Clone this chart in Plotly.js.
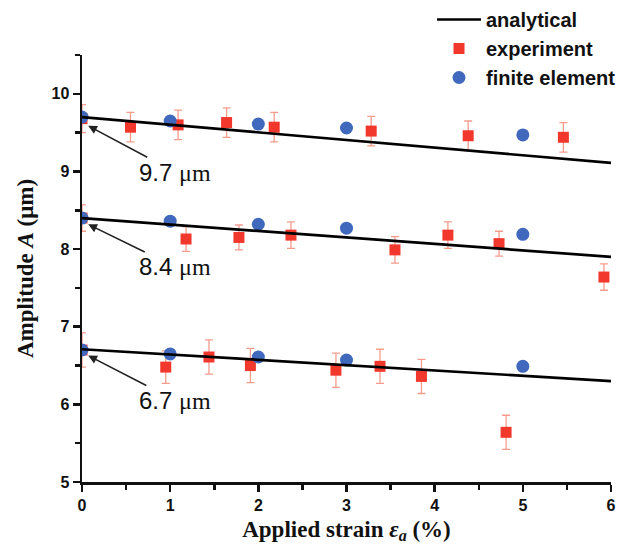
<!DOCTYPE html>
<html><head><meta charset="utf-8">
<script src="https://cdn.plot.ly/plotly-3.0.1.min.js"></script>
<style>html,body{margin:0;padding:0;background:#fff}#chart{width:621px;height:550px}</style>
</head><body><div id="chart"></div>
<script>
// analytical lines (start, end)
const anaX = [0, 6];
const ana97 = [9.70, 9.11];
const ana84 = [8.40, 7.90];
const ana67 = [6.71, 6.30];

// finite element
const feX = [0, 1, 2, 3, 5];
const fe97 = [9.70, 9.65, 9.61, 9.56, 9.47];
const fe84 = [8.40, 8.36, 8.32, 8.27, 8.19];
const fe67 = [6.70, 6.65, 6.61, 6.57, 6.49];

// experiment
const ex97X = [0, 0.55, 1.09, 1.64, 2.18, 3.28, 4.38, 5.46];
const ex97Y = [9.68, 9.57, 9.60, 9.63, 9.57, 9.52, 9.46, 9.44];
const ex97E = [0.18, 0.19, 0.19, 0.19, 0.19, 0.19, 0.19, 0.19];
const ex84X = [0, 1.18, 1.78, 2.37, 3.55, 4.15, 4.73, 5.92];
const ex84Y = [8.40, 8.13, 8.15, 8.18, 7.99, 8.18, 8.07, 7.64];
const ex84E = [0.17, 0.16, 0.16, 0.17, 0.17, 0.17, 0.16, 0.17];
const ex67X = [0, 0.95, 1.44, 1.91, 2.88, 3.38, 3.85, 4.81];
const ex67Y = [6.70, 6.48, 6.61, 6.50, 6.44, 6.49, 6.36, 5.64];
const ex67E = [0.22, 0.21, 0.22, 0.22, 0.22, 0.22, 0.22, 0.22];

const labels = ['9.7 μm', '8.4 μm', '6.7 μm'];
const labelTip = [[0.05, 9.60], [0.05, 8.33], [0.05, 6.64]];
const labelPos = [[1.06, 8.99], [1.06, 7.77], [1.06, 6.05]];

const RED = '#f2382c', BLUE = '#4068bd', ERR = '#f59c8c';
const traces = [];
[[ex97X, ex97Y, ex97E], [ex84X, ex84Y, ex84E], [ex67X, ex67Y, ex67E]].forEach((s, i) => {
  traces.push({x: s[0], y: s[1], type: 'scatter', mode: 'markers', name: 'experiment',
    legendgroup: 'b', showlegend: i === 0, legendrank: 2,
    marker: {symbol: 'square', size: 11, color: RED},
    error_y: {type: 'data', array: s[2], visible: true, color: ERR, thickness: 1.3, width: 4}});
});
[fe97, fe84, fe67].forEach((y, i) => {
  traces.push({x: feX, y: y, type: 'scatter', mode: 'markers', name: 'finite element',
    legendgroup: 'c', showlegend: i === 0, legendrank: 3,
    marker: {symbol: 'circle', size: 13, color: BLUE}});
});
[ana97, ana84, ana67].forEach((y, i) => {
  traces.push({x: anaX, y: y, type: 'scatter', mode: 'lines', name: 'analytical',
    legendgroup: 'a', showlegend: i === 0, legendrank: 1,
    line: {color: '#000', width: 2.7}});
});

const annotations = labels.map((t, i) => ({
  x: labelTip[i][0], y: labelTip[i][1], xref: 'x', yref: 'y',
  ax: labelPos[i][0], ay: labelPos[i][1], axref: 'x', ayref: 'y',
  text: '<span style="font-family:Liberation Sans,Arial">' + t.split(' ')[0] + ' </span><span style="font-family:Liberation Serif,Times New Roman">μm</span>',
  font: {size: 24, color: '#111'},
  showarrow: true, arrowhead: 2, arrowsize: 1.1, arrowwidth: 1.6, arrowcolor: '#222', standoff: 2
}));

const tickFont = {family: 'Liberation Sans, Arial', size: 16, color: '#111', weight: 'bold'};
const titleFont = {family: 'Liberation Serif, Times New Roman', size: 23, color: '#111', weight: 'bold'};

const layout = {
  width: 621, height: 550,
  margin: {l: 82, r: 10, t: 55, b: 68, autoexpand: false},
  paper_bgcolor: '#fff', plot_bgcolor: '#fff',
  showlegend: true,
  legend: {xref: 'container', yref: 'container', x: 1.0, xanchor: 'right', y: 1.0, yanchor: 'top',
    bgcolor: 'rgba(0,0,0,0)',
    font: {family: 'Liberation Sans, Arial', size: 20, color: '#111', weight: 'bold'},
    itemwidth: 44, tracegroupgap: 0, traceorder: 'grouped'},
  xaxis: {range: [0, 6], dtick: 1, tick0: 0, showgrid: false, zeroline: false,
    showline: true, linecolor: '#111', linewidth: 2.5, ticks: 'outside', ticklen: 7, tickwidth: 2.5,
    tickcolor: '#111', tickfont: tickFont,
    minor: {dtick: 0.5, ticks: 'outside', ticklen: 5, tickwidth: 2.5, tickcolor: '#111', showgrid: false},
    title: {text: 'Applied strain <i>ε<sub>a</sub></i> (%)', font: titleFont, standoff: 8}},
  yaxis: {range: [5, 10.5], dtick: 1, tick0: 5, showgrid: false, zeroline: false,
    showline: true, linecolor: '#111', linewidth: 2.5, ticks: 'outside', ticklen: 7, tickwidth: 2.5,
    tickcolor: '#111', tickfont: tickFont,
    minor: {dtick: 0.5, ticks: 'outside', ticklen: 5, tickwidth: 2.5, tickcolor: '#111', showgrid: false},
    title: {text: 'Amplitude <i>A</i> (μm)', font: titleFont, standoff: 12}},
  annotations: annotations
};
Plotly.newPlot('chart', traces, layout, {displayModeBar: false, staticPlot: true});
</script></body></html>
